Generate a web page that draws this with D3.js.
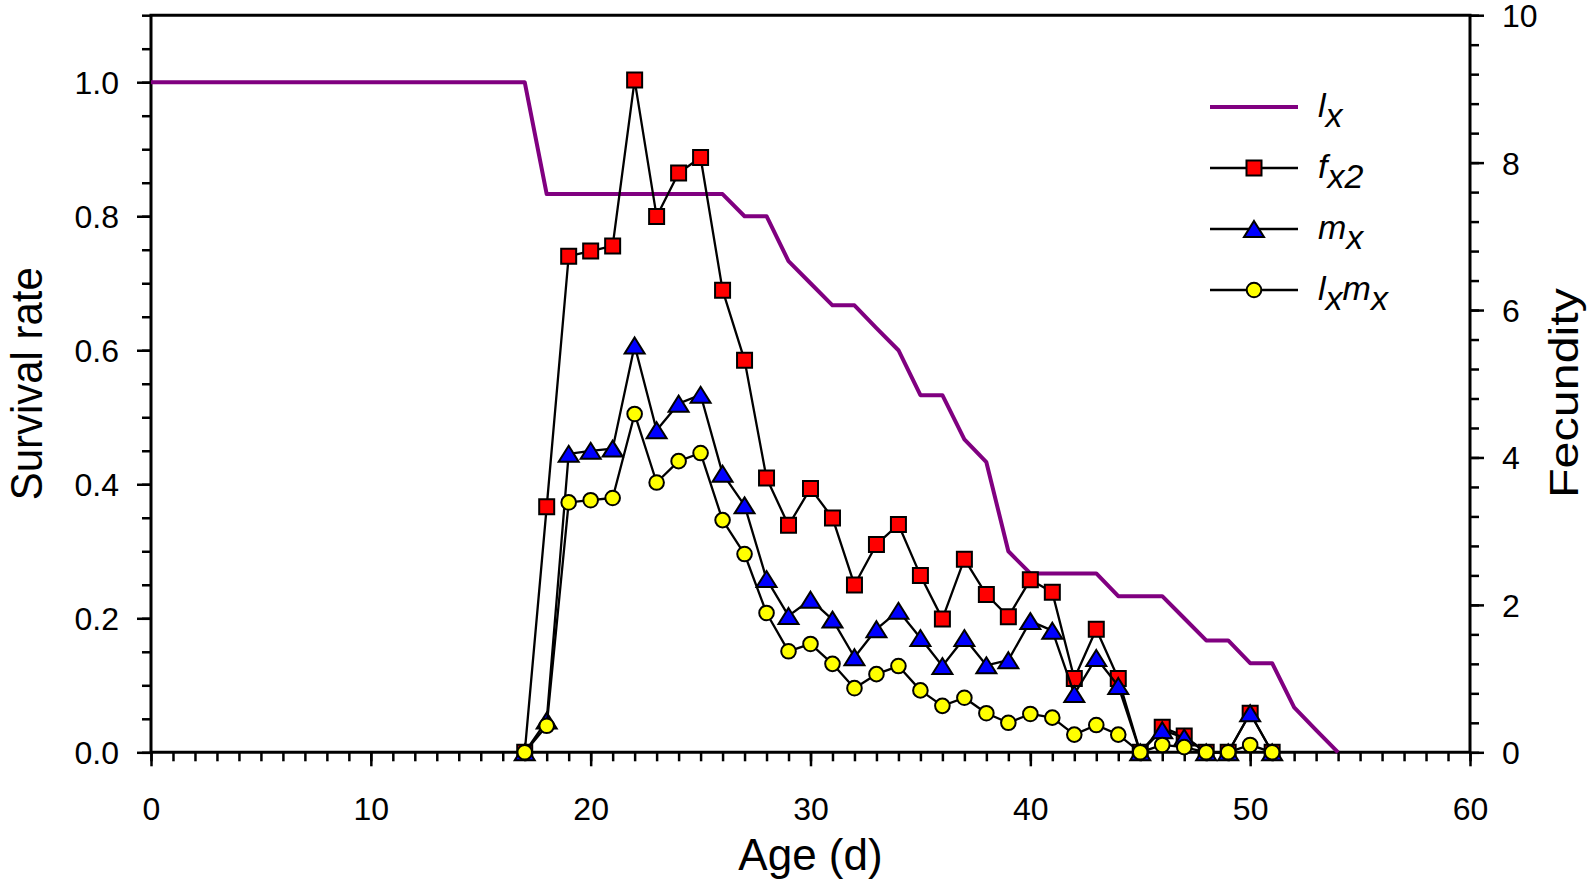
<!DOCTYPE html>
<html>
<head>
<meta charset="utf-8">
<script src="https://cdn.jsdelivr.net/npm/d3@7"></script>
<style>
  html, body { margin: 0; padding: 0; background: #fff; }
  svg { display: block; }
  text { font-family: "Liberation Sans", Arial, Helvetica, sans-serif; fill: #000; }
</style>
</head>
<body>
<svg id="chart" width="1592" height="880"></svg>
<script>
// ---------------- data ----------------
const lxAges = [0,1,2,3,4,5,6,7,8,9,10,11,12,13,14,15,16,17,18,19,20,21,22,23,24,25,26,27,28,29,30,31,32,33,34,35,36,37,38,39,40,41,42,43,44,45,46,47,48,49,50,51,52,53,54];
const lx = [1,1,1,1,1,1,1,1,1,1,1,1,1,1,1,1,1,1,
  0.833,0.833,0.833,0.833,0.833,0.833,0.833,0.833,0.833,
  0.8,0.8,0.733,0.7,0.667,0.667,0.633,0.6,0.533,0.533,0.467,0.433,0.3,
  0.267,0.267,0.267,0.267,0.233,0.233,0.233,0.2,0.167,0.167,0.133,0.133,0.067,0.033,0];

const fecAges = [17,18,19,20,21,22,23,24,25,26,27,28,29,30,31,32,33,34,35,36,37,38,39,40,41,42,43,44,45,46,47,48,49,50,51];
const fx2 = [0,3.33,6.73,6.80,6.87,9.12,7.27,7.86,8.07,6.27,5.32,3.72,3.08,3.58,3.18,2.27,2.82,3.09,2.40,1.81,2.62,2.14,1.84,2.34,2.17,1.00,1.67,1.00,0,0.34,0.22,0,0,0.53,0];
const mx  = [0,0.43,4.05,4.09,4.12,5.52,4.37,4.73,4.85,3.78,3.35,2.35,1.85,2.07,1.80,1.29,1.67,1.92,1.55,1.17,1.55,1.18,1.25,1.78,1.65,0.79,1.28,0.90,0,0.30,0.20,0,0,0.53,0];
const lxmx= [0,0.36,3.39,3.42,3.45,4.59,3.66,3.95,4.06,3.15,2.69,1.89,1.37,1.47,1.20,0.87,1.06,1.17,0.84,0.63,0.74,0.53,0.40,0.52,0.47,0.24,0.37,0.24,0,0.10,0.07,0,0,0.10,0];

const xMajorTicks = [0,10,20,30,40,50,60];
const leftMajorTicks = [0,0.2,0.4,0.6,0.8,1.0];
const rightMajorTicks = [0,2,4,6,8,10];

const xTitle = "Age (d)";
const leftTitle = "Survival rate";
const rightTitle = "Fecundity";

// legend entries: [main, sub] pairs
const legendEntries = [
  {key: "lx",   parts: [["l","x"]]},
  {key: "fx2",  parts: [["f","x2"]]},
  {key: "mx",   parts: [["m","x"]]},
  {key: "lxmx", parts: [["l","x"],["m","x"]]}
];

// ---------------- layout ----------------
const L = 151, R = 1470, T = 15.2, B = 752.3;
const svg = d3.select("#chart");

const x = d3.scaleLinear().domain([0, 60]).range([L, R]);
const yL = d3.scaleLinear().domain([0, 1.1]).range([B, T]);
const yR = d3.scaleLinear().domain([0, 10]).range([B, T]);

const MAJ = 14, MIN = 9;

function styleAxis(g) {
  g.selectAll(".domain").remove();
  g.selectAll(".tick line").attr("stroke", "#000").attr("stroke-width", 2.5);
}

// minor ticks
svg.append("g").attr("transform", `translate(0,${B})`)
  .call(d3.axisBottom(x).tickValues(d3.range(0, 61, 1)).tickSize(MIN).tickFormat(""))
  .call(styleAxis);
svg.append("g").attr("transform", `translate(${L},0)`)
  .call(d3.axisLeft(yL).tickValues(d3.range(0, 1.1001, 0.05)).tickSize(MIN).tickFormat(""))
  .call(styleAxis);
svg.append("g").attr("transform", `translate(${R},0)`)
  .call(d3.axisRight(yR).tickValues(d3.range(0, 10.001, 0.4)).tickSize(MIN).tickFormat(""))
  .call(styleAxis);

// major ticks with labels
const gx = svg.append("g").attr("transform", `translate(0,${B})`)
  .call(d3.axisBottom(x).tickValues(xMajorTicks).tickSize(MAJ).tickFormat(d3.format("d")))
  .call(styleAxis);
gx.selectAll(".tick text").attr("y", 68).attr("dy", 0).attr("font-size", 32)
  .style("font-family", "'Liberation Sans', Arial, sans-serif");

const gl = svg.append("g").attr("transform", `translate(${L},0)`)
  .call(d3.axisLeft(yL).tickValues(leftMajorTicks).tickSize(MAJ).tickFormat(d3.format(".1f")))
  .call(styleAxis);
gl.selectAll(".tick text").attr("x", -32).attr("dy", "0.36em").attr("font-size", 32)
  .style("font-family", "'Liberation Sans', Arial, sans-serif");

const gr = svg.append("g").attr("transform", `translate(${R},0)`)
  .call(d3.axisRight(yR).tickValues(rightMajorTicks).tickSize(MAJ).tickFormat(d3.format("d")))
  .call(styleAxis);
gr.selectAll(".tick text").attr("x", 32).attr("dy", "0.36em").attr("font-size", 32)
  .style("font-family", "'Liberation Sans', Arial, sans-serif");

// frame
const frame = svg.append("g").attr("stroke", "#000").attr("stroke-width", 3).attr("fill", "none");
frame.append("path").attr("d", `M${L},${T}H${R}V${B}H${L}Z`).attr("stroke-linejoin", "miter");

// axis titles
svg.append("text").attr("x", (L + R) / 2).attr("y", 870).attr("text-anchor", "middle")
  .attr("font-size", 44).text(xTitle);
svg.append("text").attr("transform", `translate(42,${(T + B) / 2}) rotate(-90)`)
  .attr("text-anchor", "middle").attr("font-size", 45)
  .attr("textLength", 233).attr("lengthAdjust", "spacingAndGlyphs").text(leftTitle);
svg.append("text").attr("transform", `translate(1578,393) rotate(-90)`)
  .attr("text-anchor", "middle").attr("font-size", 40)
  .attr("textLength", 210).attr("lengthAdjust", "spacingAndGlyphs").text(rightTitle);

// ---------------- series ----------------
const lxData = lxAges.map((a, i) => ({a, v: lx[i]}));
svg.append("path").datum(lxData)
  .attr("fill", "none").attr("stroke", "#800080").attr("stroke-width", 4)
  .attr("stroke-linejoin", "round")
  .attr("d", d3.line().x(d => x(d.a)).y(d => yL(d.v)));

function triPath(w, h) {
  return `M0,${-h/2}L${w/2},${h/2}L${-w/2},${h/2}Z`;
}
const markers = {
  fx2:  {fill: "#ff0000", path: "M-7.5,-7.5H7.5V7.5H-7.5Z"},
  mx:   {fill: "#0000ff", path: triPath(20, 16)},
  lxmx: {fill: "#ffff00", path: d3.symbol(d3.symbolCircle, Math.PI * 7.3 * 7.3)()}
};

const fecSeries = [
  {key: "fx2", values: fx2},
  {key: "mx", values: mx},
  {key: "lxmx", values: lxmx}
];

fecSeries.forEach(s => {
  const data = fecAges.map((a, i) => ({a, v: s.values[i]}));
  const g = svg.append("g");
  g.append("path").datum(data)
    .attr("fill", "none").attr("stroke", "#000").attr("stroke-width", 2.3)
    .attr("stroke-linejoin", "round")
    .attr("d", d3.line().x(d => x(d.a)).y(d => yR(d.v)));
  g.selectAll("path.m").data(data).join("path").attr("class", "m")
    .attr("transform", d => `translate(${x(d.a)},${yR(d.v)})`)
    .attr("d", markers[s.key].path)
    .attr("fill", markers[s.key].fill).attr("stroke", "#000").attr("stroke-width", 2);
});

// ---------------- legend ----------------
const lgX1 = 1210, lgX2 = 1298, lgY0 = 107, lgDy = 61, lgTx = 1318;
legendEntries.forEach((e, i) => {
  const y = lgY0 + i * lgDy;
  const g = svg.append("g");
  if (e.key === "lx") {
    g.append("line").attr("x1", lgX1).attr("x2", lgX2).attr("y1", y).attr("y2", y)
      .attr("stroke", "#800080").attr("stroke-width", 4);
  } else {
    g.append("line").attr("x1", lgX1).attr("x2", lgX2).attr("y1", y).attr("y2", y)
      .attr("stroke", "#000").attr("stroke-width", 2.5);
    g.append("path").attr("transform", `translate(${(lgX1 + lgX2) / 2},${y})`)
      .attr("d", markers[e.key].path).attr("fill", markers[e.key].fill)
      .attr("stroke", "#000").attr("stroke-width", 2);
  }
  const t = g.append("text").attr("x", lgTx).attr("y", y + 10)
    .attr("font-size", 34).attr("font-style", "italic");
  e.parts.forEach((p, j) => {
    t.append("tspan").attr("dy", j === 0 ? 0 : -10).text(p[0]);
    t.append("tspan").attr("dy", 10).text(p[1]);
  });
});
</script>
</body>
</html>
